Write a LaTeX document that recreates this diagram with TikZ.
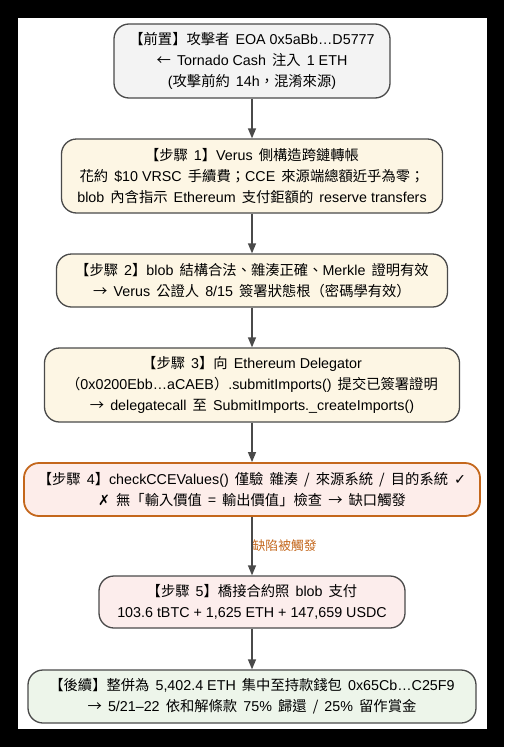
\documentclass[tikz,border=0pt]{standalone}
\usepackage{fontspec}
\setmainfont{Liberation Sans}
\newfontfamily\cjkfont[WordSpace=1.9]{Noto Sans CJK TC}
\newfontfamily\symfont{DejaVu Sans}
\newcommand{\zh}[1]{{\cjkfont #1}}
\usetikzlibrary{arrows.meta}
\definecolor{linegray}{HTML}{4A4A4A}
\definecolor{fillgray}{HTML}{F3F3F3}
\definecolor{fillcream}{HTML}{FDF6E4}
\definecolor{fillpink}{HTML}{FDEDEA}
\definecolor{fillrose}{HTML}{FCEDEC}
\definecolor{fillgreen}{HTML}{EDF5EA}
\definecolor{flaworange}{HTML}{C4671C}
\begin{document}
\begin{tikzpicture}
            [x=1pt, y=-1pt,
            box/.style={draw=linegray, line width=1.3pt, rounded corners=15pt, align=center,
                inner sep=0pt, font=\fontsize{14.3}{20.8}\selectfont},
            edge/.style={draw=linegray, line width=1.3pt, -{Triangle[length=10pt,width=8pt]}},
            flaw/.style={text=flaworange, font=\cjkfont\fontsize{12.8}{15}\selectfont, inner sep=0pt}]

            \fill[black] (0,0) rectangle (504,747);
            \fill[white] (18,18) rectangle (487,729);

            \node[box, fill=fillgray, minimum width=276pt, minimum height=74pt] (pre) at (252,61)
                {\zh{【前置】攻擊者 }EOA 0x5aBb…D5777\\
                 \zh{← }Tornado Cash\zh{ 注入 }1 ETH\\
                 (\zh{攻擊前約 }14h\zh{，混淆來源})};
            \node[box, fill=fillcream, minimum width=381pt, minimum height=74pt] (s1) at (252,176)
                {\zh{【步驟 }1\zh{】}Verus\zh{ 側構造跨鏈轉帳}\\
                 \zh{花約 }\$10 VRSC\zh{ 手續費；}CCE\zh{ 來源端總額近乎為零；}\\
                 blob\zh{ 內含指示 }Ethereum\zh{ 支付鉅額的 }reserve transfers};
            \node[box, fill=fillcream, minimum width=391pt, minimum height=53pt] (s2) at (252,280.5)
                {\zh{【步驟 }2\zh{】}blob\zh{ 結構合法、雜湊正確、}Merkle\zh{ 證明有效}\\
                 \zh{→ }Verus\zh{ 公證人 }8/15\zh{ 簽署狀態根（密碼學有效）}};
            \node[box, fill=fillcream, minimum width=415pt, minimum height=74pt] (s3) at (252,385)
                {\zh{【步驟 }3\zh{】向 }Ethereum Delegator\\
                 \zh{（}0x0200Ebb…aCAEB\zh{）}.submitImports()\zh{ 提交已簽署證明}\\
                 \zh{→ }delegatecall\zh{ 至 }SubmitImports.\_createImports()};
            \node[box, draw=flaworange, line width=1.8pt, fill=fillpink, minimum width=456pt, minimum height=53pt] (s4) at (252,489.5)
                {\zh{【步驟 }4\zh{】}checkCCEValues()\zh{ 僅驗 雜湊 / 來源系統 / 目的系統 }{\symfont ✓}\\
                 {\symfont ✗}\zh{ 無「輸入價值 = 輸出價值」檢查 → 缺口觸發}};
            \node[box, fill=fillrose, minimum width=306pt, minimum height=52pt] (s5) at (252,602)
                {\zh{【步驟 }5\zh{】橋接合約照 }blob\zh{ 支付}\\
                 103.6 tBTC + 1,625 ETH + 147,659 USDC};
            \node[box, fill=fillgreen, minimum width=448pt, minimum height=53pt] (post) at (252,696.5)
                {\zh{【後續】整併為 }5,402.4 ETH\zh{ 集中至持款錢包 }0x65Cb…C25F9\\
                 \zh{→ }5/21–22\zh{ 依和解條款 }75\%\zh{ 歸還 / }25\%\zh{ 留作賞金}};

            \draw[edge] (pre) -- (s1);
            \draw[edge] (s1) -- (s2);
            \draw[edge] (s2) -- (s3);
            \draw[edge] (s3) -- (s4);
            \draw[edge] (s4) -- node[flaw, anchor=west] (lbl) {缺陷被觸發} (s5);
            \draw[edge] (s5) -- (post);

        \end{tikzpicture}
\end{document}
